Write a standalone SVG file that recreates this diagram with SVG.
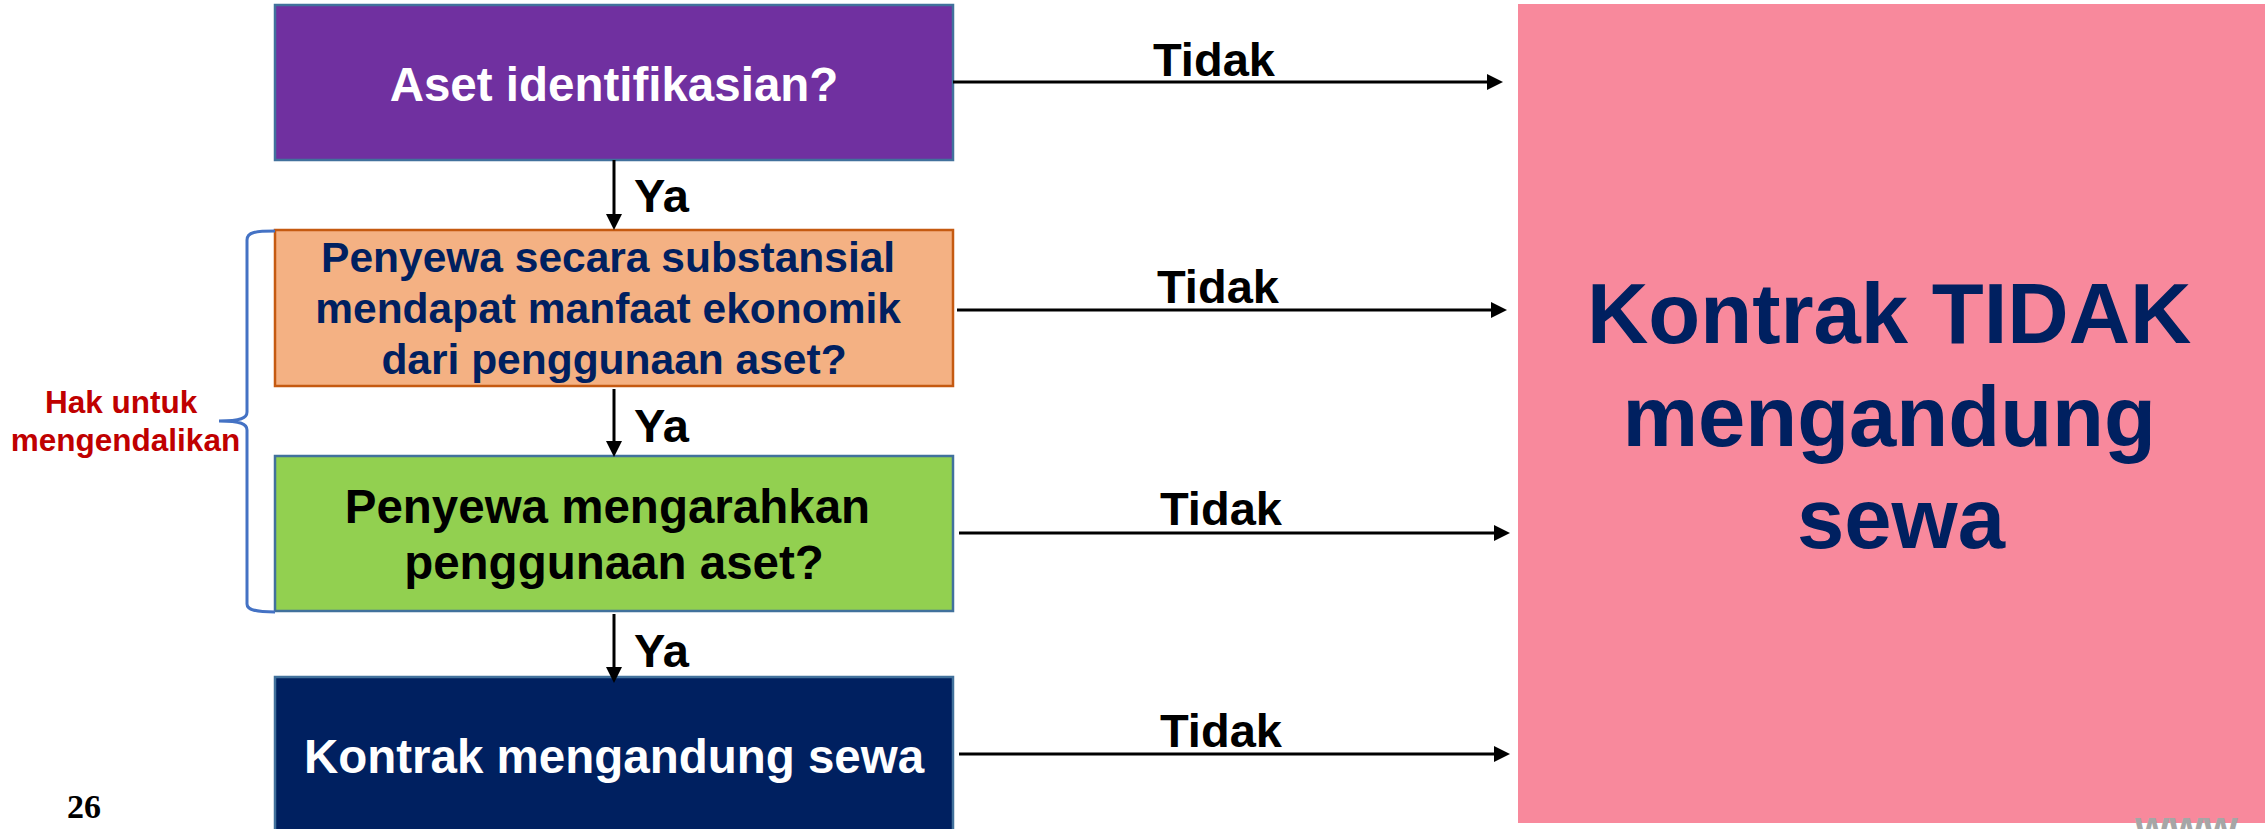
<svg xmlns="http://www.w3.org/2000/svg" width="2265" height="829" viewBox="0 0 2265 829">
  <style>
    text { font-family: "Liberation Sans", Arial, sans-serif; font-weight: bold; }
    .box { stroke-width: 2.5; }
    .mid { text-anchor: middle; }
    .conn { stroke: #000; stroke-width: 3; fill: none; marker-end: url(#arrow); }
    .lbl { font-size: 47px; fill: #000; }
  </style>
  <defs>
    <marker id="arrow" viewBox="0 0 16 16" refX="4" refY="8" markerWidth="16" markerHeight="16" markerUnits="userSpaceOnUse" orient="auto">
      <path d="M0,0 L16,8 L0,16 Z" fill="#000"/>
    </marker>
  </defs>
  <rect width="2265" height="829" fill="#ffffff"/>

  <g id="node-aset">
    <rect class="box" x="275" y="5" width="678" height="155" fill="#7030A0" stroke="#41719C"/>
    <text class="mid" x="614" y="101" font-size="47.5" fill="#ffffff">Aset identifikasian?</text>
  </g>

  <g id="node-manfaat">
    <rect class="box" x="275" y="230" width="678" height="156" fill="#F4B183" stroke="#C55A11"/>
    <text class="mid" font-size="42.5" fill="#002060">
      <tspan x="614" y="272">Penyewa secara substansial</tspan>
      <tspan x="614" y="323">mendapat manfaat ekonomik</tspan>
      <tspan x="614" y="374">dari penggunaan aset?</tspan>
    </text>
  </g>

  <g id="node-mengarahkan">
    <rect class="box" x="275" y="456" width="678" height="155" fill="#92D050" stroke="#41719C"/>
    <text class="mid" font-size="47.5" fill="#000000">
      <tspan x="614" y="523">Penyewa mengarahkan</tspan>
      <tspan x="614" y="579">penggunaan aset?</tspan>
    </text>
  </g>

  <g id="node-sewa">
    <rect class="box" x="275" y="677" width="678" height="165" fill="#002060" stroke="#41719C"/>
    <text class="mid" x="614" y="773" font-size="47.5" fill="#ffffff">Kontrak mengandung sewa</text>
  </g>

  <g id="node-tidak-sewa">
    <rect x="1518" y="4" width="760" height="819" fill="#F8899C"/>
    <text class="mid" font-size="85" fill="#002060">
      <tspan x="1901" y="343">Kontrak TIDAK</tspan>
      <tspan x="1901" y="446">mengandung</tspan>
      <tspan x="1901" y="548">sewa</tspan>
    </text>
  </g>

  <g id="node-hak">
    <path d="M275,231 C256,231 247,232 247,240 L247,412 C247,418 241,421 219,421 C241,421 247,424 247,430 L247,604 C247,610 256,612 275,612" fill="none" stroke="#4472C4" stroke-width="3"/>
    <text class="mid" font-size="31.5" fill="#C00000">
      <tspan x="125.5" y="413">Hak untuk</tspan>
      <tspan x="125.5" y="451">mengendalikan</tspan>
    </text>
  </g>

  <g id="connectors">
    <line class="conn" x1="614" y1="160" x2="614" y2="218"/>
    <line class="conn" x1="614" y1="389" x2="614" y2="445"/>
    <line class="conn" x1="614" y1="614" x2="614" y2="671"/>
    <line class="conn" x1="953" y1="82" x2="1491" y2="82"/>
    <line class="conn" x1="957" y1="310" x2="1495" y2="310"/>
    <line class="conn" x1="959" y1="533" x2="1498" y2="533"/>
    <line class="conn" x1="959" y1="754" x2="1498" y2="754"/>
    <text class="lbl" x="634" y="212">Ya</text>
    <text class="lbl" x="634" y="442">Ya</text>
    <text class="lbl" x="634" y="667">Ya</text>
    <text class="lbl" x="1153" y="76">Tidak</text>
    <text class="lbl" x="1157" y="303">Tidak</text>
    <text class="lbl" x="1160" y="525">Tidak</text>
    <text class="lbl" x="1160" y="747">Tidak</text>
  </g>

  <text x="67" y="818" font-size="34" fill="#000" style="font-family: 'Liberation Serif', 'Times New Roman', serif;">26</text>
  <text x="2135" y="842" font-size="44" fill="#A6A6A6">www.</text>
</svg>
